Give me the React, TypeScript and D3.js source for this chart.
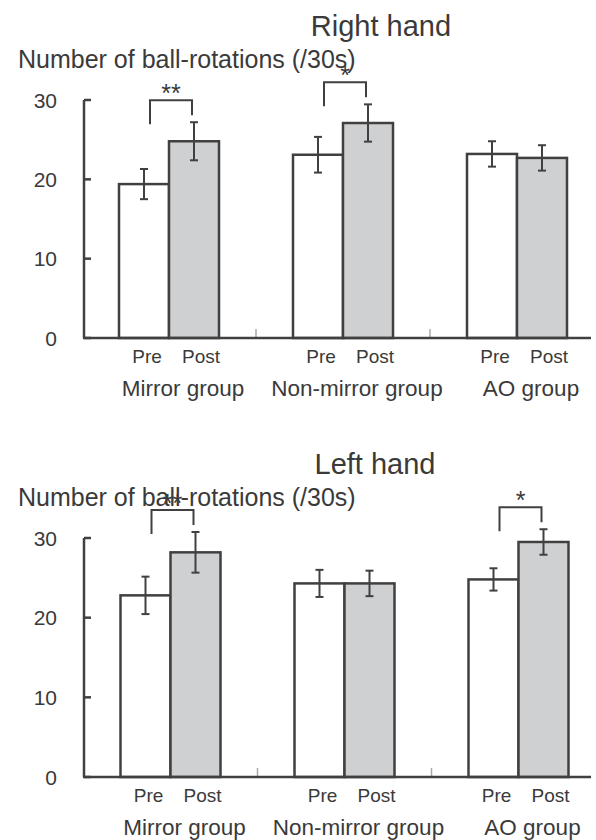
import * as d3 from "d3";

const groups = ["Mirror group", "Non-mirror group", "AO group"];
const phases = ["Pre", "Post"];
const yTicks = [0, 10, 20, 30];

// Right hand
const rightPre = [19.4, 23.1, 23.2];
const rightPost = [24.8, 27.1, 22.7];
const rightPreErr = [1.9, 2.25, 1.6];
const rightPostErr = [2.4, 2.35, 1.6];
const rightSig = [
  { group: 0, label: "**" },
  { group: 1, label: "*" },
];

// Left hand
const leftPre = [22.8, 24.3, 24.8];
const leftPost = [28.2, 24.3, 29.5];
const leftPreErr = [2.35, 1.7, 1.4];
const leftPostErr = [2.55, 1.6, 1.6];
const leftSig = [
  { group: 0, label: "**" },
  { group: 2, label: "*" },
];

const FONT = "'Liberation Sans', Arial, Helvetica, sans-serif";
const TEXT = "#3a3a3a";
const LINE = "#404040";
const GRAY = "#cfd0d2";

type PanelProps = {
  title: string;
  titleX: number;
  top: number;
  bottom: number;
  dx: number;
  pre: number[];
  post: number[];
  preErr: number[];
  postErr: number[];
  sig: { group: number; label: string }[];
};

const Panel = ({ title, titleX, top, bottom, dx, pre, post, preErr, postErr, sig }: PanelProps) => {
  const x = d3.scaleBand().domain(groups).range([82 + dx, 604 + dx]).padding(0);
  const inner = d3.scaleBand().domain(phases).range([0, 100]).padding(0);
  const y = d3.scaleLinear().domain([0, 30]).range([bottom, top]);
  const axisX = 84;

  const barX = (g: number, p: string) =>
    (x(groups[g]) ?? 0) + x.bandwidth() / 2 - 50 + (inner(p) ?? 0);
  const barC = (g: number, p: string) => barX(g, p) + inner.bandwidth() / 2;

  const bars = groups.flatMap((_, g) => [
    { g, p: "Pre", v: pre[g], e: preErr[g] },
    { g, p: "Post", v: post[g], e: postErr[g] },
  ]);

  return (
    <g>
      <text x={titleX} y={top - 64} textAnchor="middle" fontSize={29} fill={TEXT} fontFamily={FONT}>
        {title}
      </text>
      <text x={18} y={top - 32} fontSize={25} fill={TEXT} fontFamily={FONT}>
        Number of ball-rotations (/30s)
      </text>

      {/* y axis */}
      <line x1={axisX} x2={axisX} y1={y(30)} y2={y(0)} stroke={LINE} strokeWidth={2.5} />
      {yTicks.map((t) => (
        <g key={t}>
          <line x1={axisX} x2={axisX + 7} y1={y(t)} y2={y(t)} stroke={LINE} strokeWidth={2.5} />
          <text
            x={57}
            y={y(t)}
            dy="0.36em"
            textAnchor="end"
            fontSize={21}
            fill={TEXT}
            fontFamily={FONT}
          >
            {t}
          </text>
        </g>
      ))}

      {/* group separators */}
      {groups.slice(1).map((gname) => (
        <line
          key={gname}
          x1={x(gname) ?? 0}
          x2={x(gname) ?? 0}
          y1={y(0)}
          y2={y(0) - 9}
          stroke="#a8a8b0"
          strokeWidth={1.5}
        />
      ))}

      {/* bars */}
      {bars.map((b) => (
        <rect
          key={`${b.g}-${b.p}`}
          x={barX(b.g, b.p)}
          y={y(b.v)}
          width={inner.bandwidth()}
          height={y(0) - y(b.v)}
          fill={b.p === "Pre" ? "#ffffff" : GRAY}
          stroke={LINE}
          strokeWidth={2.5}
        />
      ))}

      {/* x axis */}
      <line x1={axisX - 1} x2={591} y1={y(0)} y2={y(0)} stroke={LINE} strokeWidth={2.5} />

      {/* error bars */}
      {bars.map((b) => {
        const cx = barC(b.g, b.p);
        return (
          <g key={`e-${b.g}-${b.p}`} stroke={LINE} strokeWidth={2}>
            <line x1={cx} x2={cx} y1={y(b.v + b.e)} y2={y(b.v - b.e)} />
            <line x1={cx - 4} x2={cx + 4} y1={y(b.v + b.e)} y2={y(b.v + b.e)} />
            <line x1={cx - 4} x2={cx + 4} y1={y(b.v - b.e)} y2={y(b.v - b.e)} />
          </g>
        );
      })}

      {/* significance brackets */}
      {sig.map((s) => {
        const x1 = barC(s.group, "Pre") + 6;
        const x2 = barC(s.group, "Post") - 2;
        const ty = y(post[s.group] + postErr[s.group]) - 22;
        const path = d3.path();
        path.moveTo(x1, ty + 24);
        path.lineTo(x1, ty);
        path.lineTo(x2, ty);
        path.lineTo(x2, ty + 15);
        return (
          <g key={`s-${s.group}`}>
            <path d={path.toString()} fill="none" stroke={LINE} strokeWidth={2} />
            <text
              x={(x1 + x2) / 2}
              y={ty + 2}
              textAnchor="middle"
              fontSize={25}
              fill={TEXT}
              fontFamily={FONT}
            >
              {s.label}
            </text>
          </g>
        );
      })}

      {/* x labels */}
      {groups.map((gname, g) => (
        <g key={`l-${gname}`}>
          {phases.map((p) => (
            <text
              key={p}
              x={barC(g, p) + (p === "Pre" ? 3 : 7)}
              y={y(0) + 25}
              textAnchor="middle"
              fontSize={19}
              fill={TEXT}
              fontFamily={FONT}
            >
              {p}
            </text>
          ))}
          <text
            x={(x(gname) ?? 0) + x.bandwidth() / 2 + 14}
            y={y(0) + 58}
            textAnchor="middle"
            fontSize={22.5}
            fill={TEXT}
            fontFamily={FONT}
          >
            {gname}
          </text>
        </g>
      ))}
    </g>
  );
};

export default function App() {
  return (
    <svg
      width={596}
      height={840}
      style={{ position: "absolute", left: 0, top: 0, background: "#fff" }}
    >
      <Panel
        title="Right hand"
        titleX={381}
        top={100}
        bottom={338}
        dx={0}
        pre={rightPre}
        post={rightPost}
        preErr={rightPreErr}
        postErr={rightPostErr}
        sig={rightSig}
      />
      <Panel
        title="Left hand"
        titleX={375}
        top={538}
        bottom={777}
        dx={1.5}
        pre={leftPre}
        post={leftPost}
        preErr={leftPreErr}
        postErr={leftPostErr}
        sig={leftSig}
      />
    </svg>
  );
}
